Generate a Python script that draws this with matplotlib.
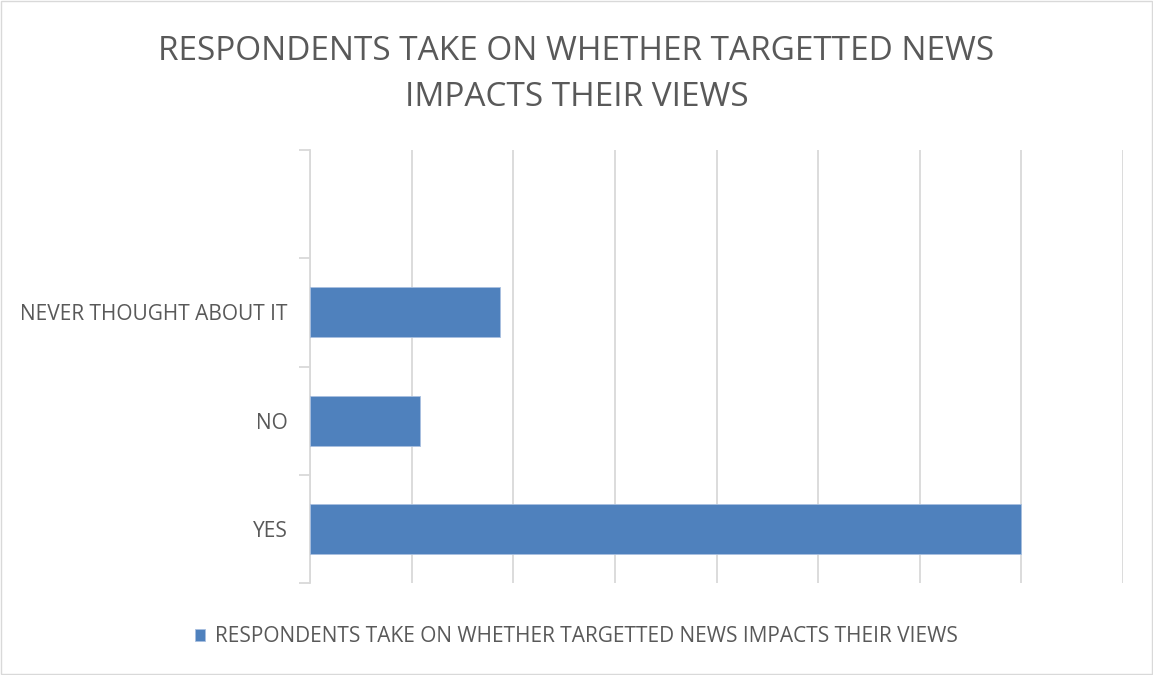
import matplotlib
matplotlib.use('Agg')
import matplotlib.pyplot as plt
from matplotlib.patches import Rectangle

plt.rcParams['font.family'] = ['Open Sans', 'DejaVu Sans']

title = 'RESPONDENTS TAKE ON WHETHER TARGETTED NEWS\nIMPACTS THEIR VIEWS'
series_name = 'RESPONDENTS TAKE ON WHETHER TARGETTED NEWS IMPACTS THEIR VIEWS'
categories = ['YES', 'NO', 'NEVER THOUGHT ABOUT IT']
values = [70, 10.8, 18.7]

BAR = '#4f81bd'
GRID = '#d9d9d9'
TEXT = '#595959'

fig = plt.figure(figsize=(11.53, 6.75), dpi=100)
ax = fig.add_axes([310/1153, 1 - 583/675, 813/1153, 433/675])

pos = list(range(len(categories)))
ax.barh(pos, values, height=0.46, color=BAR, edgecolor='#a9c0e0', linewidth=0.6, zorder=3,
        label=series_name)

# an empty slot above the last category, like the source sheet
ax.set_ylim(-0.5, len(categories) + 0.5)
ax.set_xlim(0, 80)

ax.set_xticks(range(0, 81, 10))
ax.set_xticklabels([])
ax.tick_params(axis='x', length=0)
ax.grid(axis='x', color=GRID, linewidth=1.3, zorder=0)

ax.set_yticks([p - 0.5 for p in range(len(categories) + 2)])
ax.set_yticklabels([])
ax.tick_params(axis='y', which='major', length=8, width=1.3, color=GRID, direction='out')
ax.set_yticks(pos, minor=True)
ax.set_yticklabels(categories, minor=True, fontsize=15, color=TEXT)
ax.tick_params(axis='y', which='minor', length=0, pad=16)

for s in ['top', 'right', 'bottom']:
    ax.spines[s].set_visible(False)
ax.spines['left'].set_color(GRID)
ax.spines['left'].set_linewidth(1.3)

fig.text(0.5, 1 - 75/675, title, ha='center', va='center', fontsize=24,
         color=TEXT, linespacing=1.52)

fig.legend(loc='center', bbox_to_anchor=(0.5, 1 - 637/675), frameon=False,
           fontsize=15, labelcolor=TEXT, handlelength=0.5, handleheight=0.5,
           handletextpad=0.5)

fig.patches.append(Rectangle((0.001, 0.001), 0.998, 0.998, transform=fig.transFigure,
                             fill=False, edgecolor='#d9d9d9', linewidth=1))

fig.savefig('out.png', dpi=100)
